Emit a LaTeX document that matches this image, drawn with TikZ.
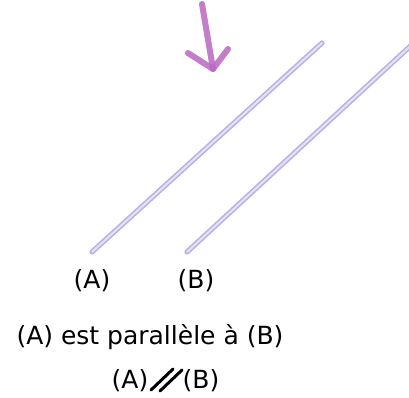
\documentclass[tikz,border=0pt]{standalone}
\usepackage{fontspec}
\setmainfont{DejaVu Sans}
\definecolor{lav}{HTML}{BBB0E2}
\definecolor{lavin}{HTML}{E6E1F6}
\definecolor{mag}{HTML}{B866C0}
\tikzset{
  parline/.style={draw=lav, double=lavin, double distance=2pt, line width=1.6pt, line cap=round},
  lbl/.style={font=\fontsize{25}{28}\selectfont, inner sep=0pt},
  pointer/.style={draw=mag, line width=6pt, line cap=round, line join=round, opacity=0.85},
  slash/.style={draw=black, line width=3pt, line cap=round}
}
\begin{document}
\begin{tikzpicture}[x=1pt,y=-1pt]
\useasboundingbox (0,0) rectangle (409,398);
\coordinate (a1) at (92,252);
\coordinate (a2) at (322,43);
\coordinate (b1) at (187,252);
\coordinate (b2) at (418,39);
\begin{scope}
\clip (0,0) rectangle (409,398);
\draw[parline] (a1) -- (a2);
\draw[parline] (b1) -- (b2);
\end{scope}
\coordinate (p0) at (202,4);
\coordinate (tip) at (213,69);
\coordinate (bl) at (188,53);
\coordinate (br) at (228,49);
\draw[pointer] (p0) -- (tip);
\draw[pointer] (bl) -- (tip) -- (br);
\node[lbl] (la) at (92,281) {(A)};
\node[lbl] (lb) at (196,281) {(B)};
\node[lbl] (t1) at (150,337) {(A) est parallèle à (B)};
\node[lbl] (t2a) at (130,381) {(A)};
\node[lbl] (t2b) at (201,381) {(B)};
\coordinate (s1a) at (151,390);
\coordinate (s1b) at (173,369);
\coordinate (s2a) at (160,391);
\coordinate (s2b) at (182,370);
\draw[slash] (s1a) -- (s1b);
\draw[slash] (s2a) -- (s2b);
\end{tikzpicture}
\end{document}
